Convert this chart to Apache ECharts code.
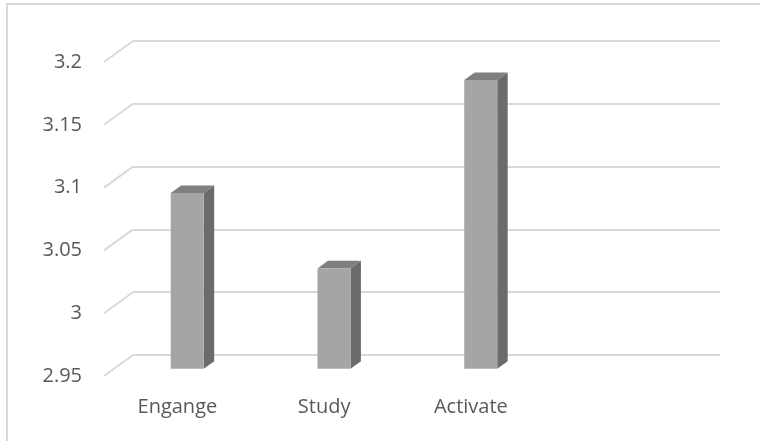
<!DOCTYPE html>
<html>
<head>
<meta charset="utf-8">
<script src="https://cdn.jsdelivr.net/npm/echarts@6/dist/echarts.min.js"></script>
<style>
html,body{margin:0;padding:0;background:#fff;}
#c{width:760px;height:441px;}
</style>
</head>
<body>
<div id="c"></div>
<script>
// Data
var categories = ['Engange', 'Study', 'Activate', ''];
var values = [3.09, 3.03, 3.18, null];
var yTicks = [2.95, 3.0, 3.05, 3.1, 3.15, 3.2];
var yMin = 2.95, yMax = 3.2, yStep = 0.05;

// 3D projection (pixels): depth vector from back plane to front plane
var DEPTH_DX = -29, DEPTH_DY = 21;
var BAR_FRONT = 0.66, BAR_BACK = 0.30; // fraction of depth where bar faces sit
var BAR_W = 33;

var chart = echarts.init(document.getElementById('c'), null, {renderer: 'canvas'});

var font = '"Open Sans", sans-serif';
var txt = '#595959';

var option = {
  backgroundColor: '#ffffff',
  animation: false,
  graphic: [{
    type: 'rect',
    shape: {x: 7, y: 4, width: 800, height: 500},
    style: {fill: 'none', stroke: '#d9d9d9', lineWidth: 2},
    silent: true
  }],
  grid: [
    // back plane
    {left: 133, right: 40, top: 41, bottom: 86, containLabel: false},
    // front plane (labels)
    {left: 133 + DEPTH_DX, right: 40 - DEPTH_DX, top: 41 + DEPTH_DY, bottom: 86 - DEPTH_DY, containLabel: false}
  ],
  xAxis: [
    {gridIndex: 0, type: 'category', data: categories, boundaryGap: true,
     axisLine: {show: false}, axisTick: {show: false}, axisLabel: {show: false}},
    {gridIndex: 1, type: 'category', data: categories, boundaryGap: true,
     axisLine: {show: false}, axisTick: {show: false},
     axisLabel: {color: txt, fontFamily: font, fontSize: 20, margin: 21}}
  ],
  yAxis: [
    {gridIndex: 0, type: 'value', min: yMin, max: yMax, interval: yStep,
     axisLine: {show: false}, axisTick: {show: false}, axisLabel: {show: false},
     splitLine: {show: true, lineStyle: {color: '#d9d9d9', width: 2}}},
    {gridIndex: 1, type: 'value', min: yMin, max: yMax, interval: yStep,
     axisLine: {show: false}, axisTick: {show: false},
     splitLine: {show: false},
     axisLabel: {color: txt, fontFamily: font, fontSize: 20, margin: 22, padding: [6, 0, 0, 0],
       formatter: function (v) { return String(+v.toFixed(2)); }}}
  ],
  series: [
    // slanted floor/side lines linking back plane gridlines to front plane
    {
      type: 'custom', xAxisIndex: 0, yAxisIndex: 0, silent: true,
      data: yTicks.map(function (t) { return [0, t]; }),
      renderItem: function (params, api) {
        var p = api.coord([api.value(0), api.value(1)]);
        var x0 = params.coordSys.x;
        return {
          type: 'line',
          shape: {x1: x0, y1: p[1], x2: x0 + DEPTH_DX, y2: p[1] + DEPTH_DY},
          style: {stroke: '#d9d9d9', lineWidth: 2}
        };
      },
      z: 1
    },
    // 3D bars
    {
      type: 'custom', xAxisIndex: 0, yAxisIndex: 0, silent: true,
      data: values.map(function (v, i) { return [i, v]; }).filter(function (d) { return d[1] != null; }),
      renderItem: function (params, api) {
        var top = api.coord([api.value(0), api.value(1)]);
        var bot = api.coord([api.value(0), yMin]);
        var fx = DEPTH_DX * BAR_FRONT, fy = DEPTH_DY * BAR_FRONT;
        var bx = DEPTH_DX * BAR_BACK, by = DEPTH_DY * BAR_BACK;
        var xl = top[0] + fx - BAR_W / 2, xr = top[0] + fx + BAR_W / 2;
        var yt = top[1] + fy, yb = bot[1] + fy;
        var ddx = bx - fx, ddy = by - fy;
        return {
          type: 'group',
          children: [
            {type: 'polygon', shape: {points: [[xr, yt], [xr + ddx, yt + ddy], [xr + ddx, yb + ddy], [xr, yb]]},
             style: {fill: '#6b6b6b'}},
            {type: 'polygon', shape: {points: [[xl, yt], [xl + ddx, yt + ddy], [xr + ddx, yt + ddy], [xr, yt]]},
             style: {fill: '#7f7f7f'}},
            {type: 'rect', shape: {x: xl, y: yt, width: BAR_W, height: yb - yt},
             style: {fill: '#a5a5a5'}}
          ]
        };
      },
      z: 2
    }
  ]
};
chart.setOption(option);
</script>
</body>
</html>
